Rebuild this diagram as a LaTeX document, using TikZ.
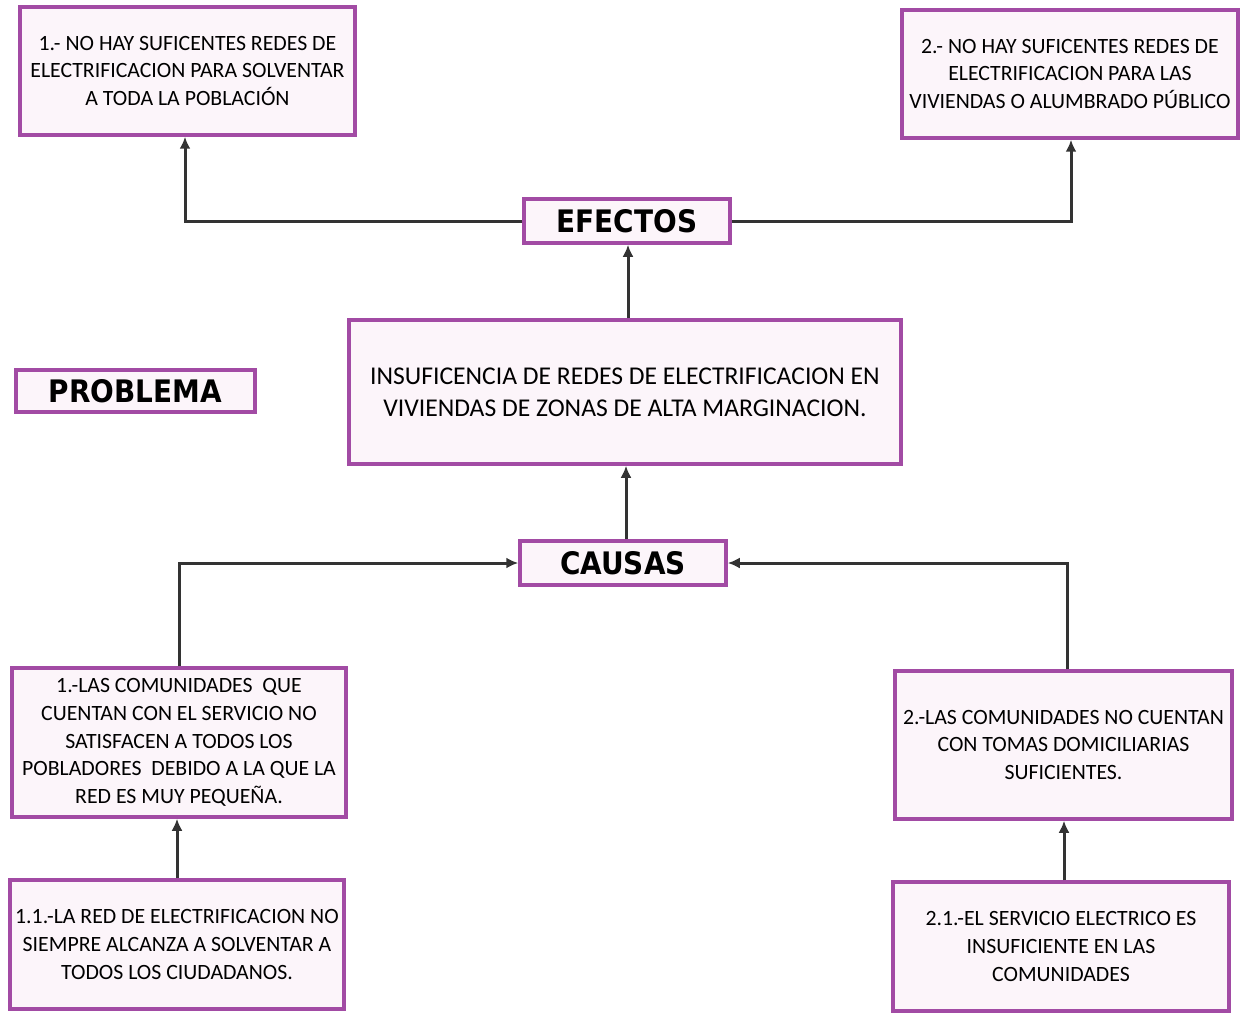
\documentclass[tikz,border=0pt]{standalone}
\usepackage{fontspec}
\setmainfont{Carlito}
\newfontfamily\headfont{DejaVu Sans Condensed}
\usetikzlibrary{arrows.meta}
\definecolor{boxline}{HTML}{A24BA4}
\definecolor{boxfill}{HTML}{FCF5FA}
\definecolor{conn}{HTML}{333333}
\tikzset{
  box/.style={draw=boxline, fill=boxfill, line width=3.5pt, align=center, inner sep=1pt,
    font=\fontsize{21.8}{27.6}\selectfont},
  headbox/.style={draw=boxline, fill=boxfill, line width=3.5pt, align=center, inner sep=0pt,
    font=\headfont\bfseries\fontsize{31}{36}\selectfont},
  probbox/.style={box, font=\fontsize{25.6}{32}\selectfont},
  conn/.style={draw=conn, line width=3pt, -{Latex[length=12pt,width=11pt]}},
}
\begin{document}
\begin{tikzpicture}[x=1pt,y=-1pt]
\useasboundingbox (0,0) rectangle (1243,1014);
% effects
\node[box, minimum width=335pt, minimum height=128pt] (e1) at (187.5,71) {1.- NO HAY SUFICENTES REDES DE\\ELECTRIFICACION PARA SOLVENTAR\\A TODA LA POBLACIÓN};
\node[box, minimum width=336pt, minimum height=128pt] (e2) at (1070,74) {2.- NO HAY SUFICENTES REDES DE\\ELECTRIFICACION PARA LAS\\VIVIENDAS O ALUMBRADO PÚBLICO};
\node[headbox, minimum width=206pt, minimum height=44pt] (efectos) at (627,221) {EFECTOS};
% problem
\node[probbox, minimum width=552pt, minimum height=144pt] (prob) at (625,392) {INSUFICENCIA DE REDES DE ELECTRIFICACION EN\\VIVIENDAS DE ZONAS DE ALTA MARGINACION.};
\node[headbox, minimum width=239pt, minimum height=42pt] (problema) at (135.5,391) {PROBLEMA};
% causes
\node[headbox, minimum width=206pt, minimum height=44pt] (causas) at (623,563) {CAUSAS};
\node[box, minimum width=334pt, minimum height=149pt] (c1) at (179,742.5) {1.-LAS COMUNIDADES\ \ QUE\\CUENTAN CON EL SERVICIO NO\\SATISFACEN A TODOS LOS\\POBLADORES\ \ DEBIDO A LA QUE LA\\RED ES MUY PEQUEÑA.};
\node[box, minimum width=337pt, minimum height=148pt] (c2) at (1063.5,745) {2.-LAS COMUNIDADES NO CUENTAN\\CON TOMAS DOMICILIARIAS\\SUFICIENTES.};
\node[box, minimum width=334pt, minimum height=129pt] (c11) at (177,944.5) {1.1.-LA RED DE ELECTRIFICACION NO\\SIEMPRE ALCANZA A SOLVENTAR A\\TODOS LOS CIUDADANOS.};
\node[box, minimum width=336pt, minimum height=129pt] (c21) at (1061,946.5) {2.1.-EL SERVICIO ELECTRICO ES\\INSUFICIENTE EN LAS\\COMUNIDADES};
% connectors
\draw[conn] (efectos.west) -| (e1.south -| 185,0);
\draw[conn] (efectos.east) -| (e2.south -| 1071,0);
\draw[conn] (prob.north -| 628,0) -- (efectos.south -| 628,0);
\draw[conn] (causas.north -| 626,0) -- (prob.south -| 626,0);
\draw[conn] (c1.north) |- (causas.west);
\draw[conn] (c2.north -| 1067,0) |- (causas.east);
\draw[conn] (c11.north) -- (c1.south -| c11.north);
\draw[conn] (c21.north -| 1064,0) -- (c2.south -| 1064,0);
\end{tikzpicture}
\end{document}
